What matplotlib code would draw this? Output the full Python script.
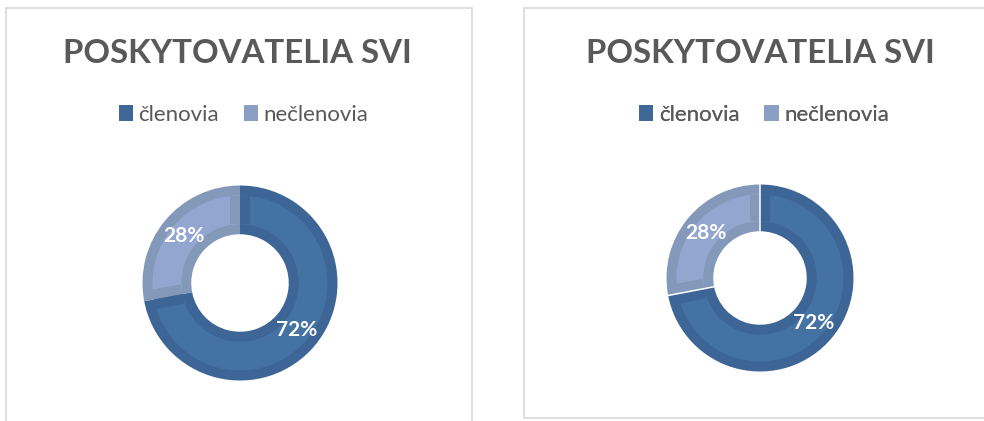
import numpy as np
import matplotlib
matplotlib.use("Agg")
import matplotlib.pyplot as plt
from matplotlib.patches import Rectangle, Patch

# ---- data ----
categories = ["členovia", "nečlenovia"]
values_left = [72, 28]
values_right = [72, 28]
title_text = "POSKYTOVATELIA SVI"

# ---- styles ----
inner_colors = ["#4472A3", "#93A6CF"]
outer_colors = ["#3D6595", "#8498BA"]
legend_colors = ["#3F6899", "#8B9FC4"]
text_gray = "#595959"
frame_color = "#D9D9D9"
FONT = "Lato"

W, H = 984, 421
fig = plt.figure(figsize=(W / 100, H / 100), dpi=100)
ax = fig.add_axes([0, 0, 1, 1])
ax.set_xlim(0, W)
ax.set_ylim(0, H)
ax.set_aspect("equal")
ax.axis("off")

# panel frames
ax.add_patch(Rectangle((5.5, -10), 466.5, H - 7.5 + 10, fill=False,
                       edgecolor=frame_color, lw=1.2))
ax.add_patch(Rectangle((524, H - 417.5), 500, 417.5 - 7.5, fill=False,
                       edgecolor=frame_color, lw=1.2))

D = 10.0  # inner border band (px)


def donut(values, cx, cy, r, sep):
    cy = H - cy
    w = r * 0.5
    # outer darker band (full ring)
    ax.pie(values, colors=outer_colors, startangle=90, counterclock=False,
           center=(cx, cy), radius=r,
           wedgeprops=dict(width=w, linewidth=0))
    # lighter interior
    _, _, autotexts = ax.pie(
        values, colors=inner_colors, startangle=90, counterclock=False,
        center=(cx, cy), radius=r - D, autopct="%d%%",
        pctdistance=0.75 * r / (r - D),
        wedgeprops=dict(width=w - 2 * D, linewidth=0),
        textprops=dict(color="white", fontsize=15, fontweight="bold",
                       family=FONT))
    # radial bands along segment boundaries
    fr = np.array(values, dtype=float) / np.sum(values)
    bounds = 90 - 360 * np.concatenate([[0], np.cumsum(fr)[:-1]])
    n = len(values)
    rr = np.array([r - w + D, r - D])
    for k, th in enumerate(np.deg2rad(bounds)):
        u = np.array([np.cos(th), np.sin(th)])
        nv = np.array([-np.sin(th), np.cos(th)])
        for side, idx in [(-1, k), (1, (k - 1) % n)]:
            off = side * nv * D / 2
            ax.plot(cx + rr * u[0] + off[0], cy + rr * u[1] + off[1],
                    color=outer_colors[idx], lw=D * 0.72,
                    solid_capstyle="butt", zorder=2)
        if sep:
            rs = np.array([r - w - 1, r + 1])
            ax.plot(cx + rs * u[0], cy + rs * u[1], color="white", lw=1.1,
                    solid_capstyle="butt", zorder=3)
    for t in autotexts:
        t.set_zorder(5)


donut(values_left, 240, 283, 97.5, False)
donut(values_right, 760, 278, 93.5, True)
ax.set_xlim(0, W)
ax.set_ylim(0, H)

for cx_title, cx_leg in [(237.5, 243.5), (760, 764)]:
    ax.text(cx_title, H - 63, title_text, ha="center", va="baseline",
            fontsize=23.8, fontweight="bold", color=text_gray, family=FONT)
    handles = [Patch(facecolor=c, edgecolor="none") for c in legend_colors]
    leg = ax.legend(handles, categories, loc="center",
                    bbox_to_anchor=(cx_leg, H - 115),
                    bbox_transform=ax.transData, ncol=2, frameon=False,
                    handlelength=0.65, handleheight=0.72, handletextpad=0.25,
                    columnspacing=1.1,
                    prop=dict(family=FONT, size=16))
    for t in leg.get_texts():
        t.set_color(text_gray)
    ax.add_artist(leg)

fig.savefig("out.png", dpi=100, facecolor="white")
